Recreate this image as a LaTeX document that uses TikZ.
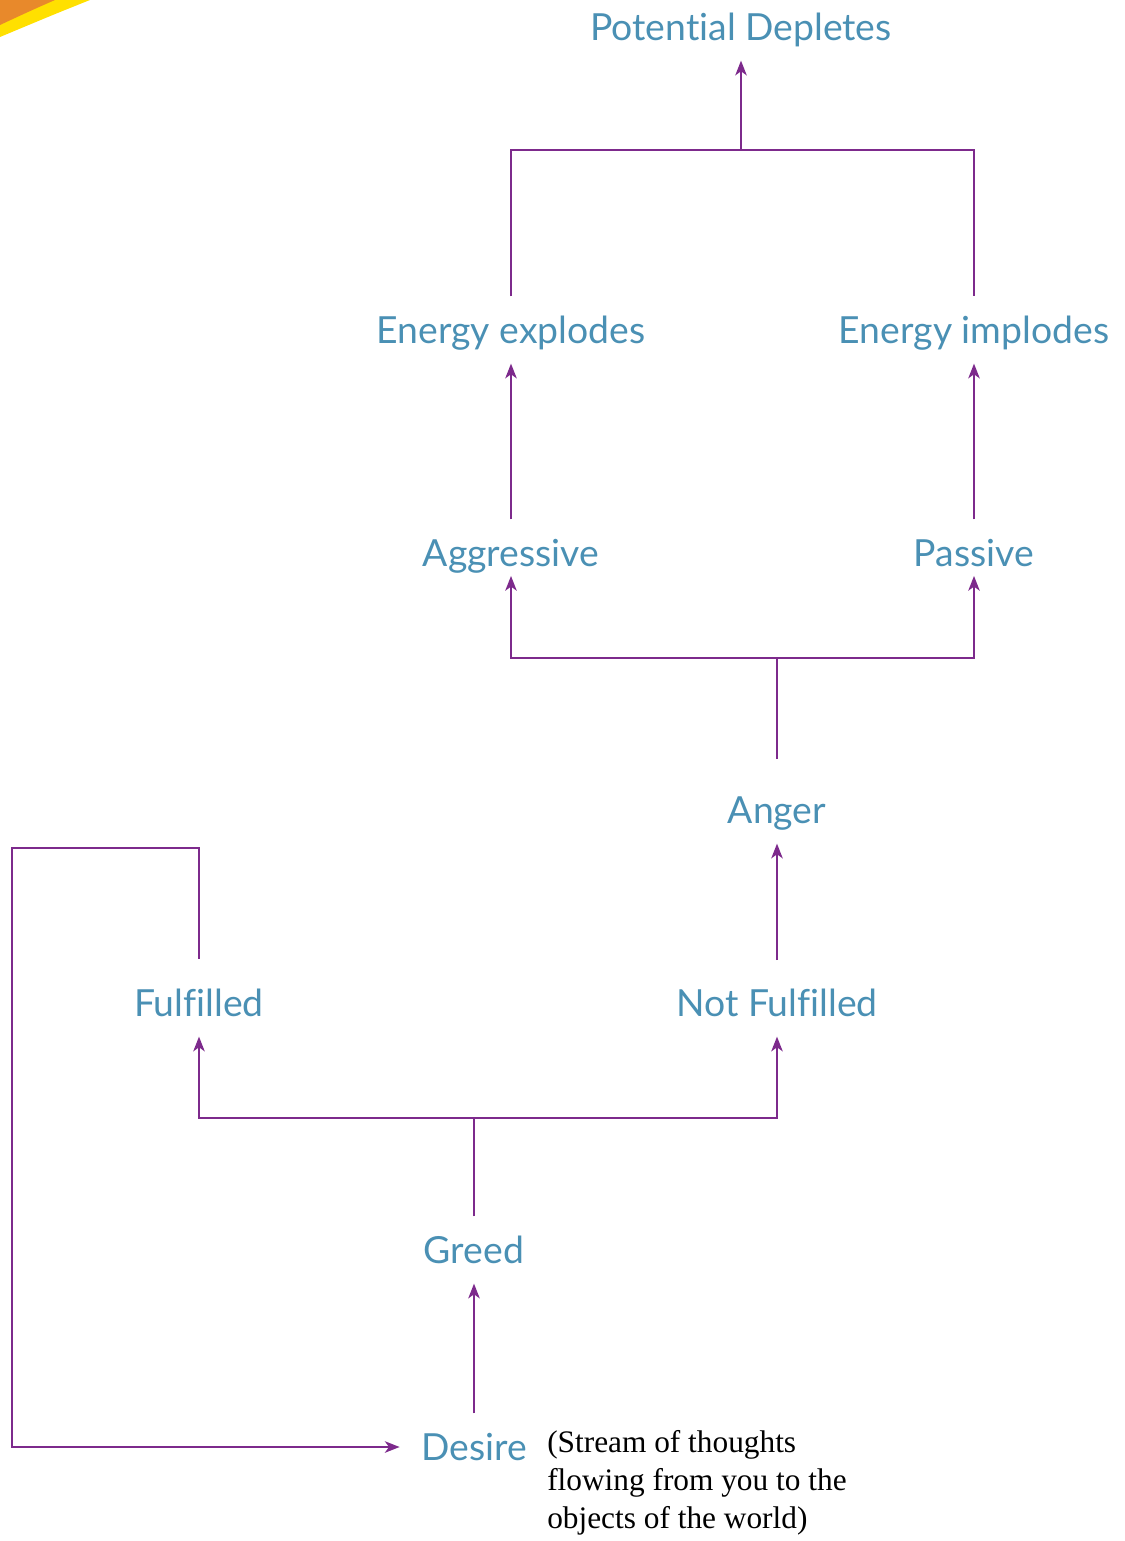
\documentclass[tikz,border=0pt]{standalone}
\usepackage{fontspec}
\usepackage{tikz}
\usetikzlibrary{arrows.meta}
\setmainfont{Lato}[Ligatures={NoCommon}]
\newfontfamily\notefont{Liberation Serif}
\definecolor{LabelBlue}{RGB}{74,144,180}
\definecolor{FlowPurple}{RGB}{125,42,140}
\definecolor{CornerOrange}{RGB}{232,137,43}
\definecolor{CornerYellow}{RGB}{255,224,0}

\begin{document}
\begin{tikzpicture}[x=0.75pt,y=-0.75pt,
    lbl/.style={text=LabelBlue,font=\fontsize{28}{32}\selectfont,
        text height=20pt,text depth=0pt,inner xsep=16pt,inner ysep=15pt},
    note/.style={font=\notefont\fontsize{23.5}{28.5}\selectfont,align=left,
        inner sep=0pt,anchor=north west},
    flow/.style={line width=1.85pt,FlowPurple},
    tip/.style={-{Stealth[length=11pt,width=8.5pt,inset=3pt]}}]
    \useasboundingbox (0,0) rectangle (1124,1541);

    \fill[CornerYellow] (0,0) -- (90,0) .. controls (55,14) .. (0,37) -- cycle;
    \fill[CornerOrange] (0,0) -- (55,0) .. controls (30,11) .. (0,25) -- cycle;

    \node[lbl] (deplete) at (741,27) {Potential Depletes};
    \node[lbl] (explode) at (511,330) {Energy explodes};
    \node[lbl] (implode) at (974,330) {Energy implodes};
    \node[lbl] (aggr) at (511,553) {Aggressive};
    \node[lbl] (passive) at (974,553) {Passive};
    \node[lbl] (anger) at (777,810) {Anger};
    \node[lbl] (fulfil) at (199,1003) {Fulfilled};
    \node[lbl] (notfulfil) at (777,1003) {Not Fulfilled};
    \node[lbl] (greed) at (474,1250) {Greed};
    \node[lbl] (desire) at (474,1447) {Desire};
    \node[note] (stream) at (547,1430)
        {(Stream of thoughts\\flowing from you to the\\objects of the world)};

    \coordinate (topjoin) at (741,150);
    \coordinate (angerjoin) at (777,658);
    \coordinate (greedjoin) at (474,1118);
    \coordinate (loopcorner) at (12,848);

    \draw[flow] (explode) |- (topjoin) -| (implode);
    \draw[flow,tip] (topjoin) -- (deplete);
    \draw[flow,tip] (aggr) -- (explode);
    \draw[flow,tip] (passive) -- (implode);
    \draw[flow,tip,shorten >=-8pt] (angerjoin) -| (aggr);
    \draw[flow,tip,shorten >=-8pt] (angerjoin) -| (passive);
    \draw[flow,shorten <=13pt] (anger) -- (angerjoin);
    \draw[flow,tip,shorten <=7pt] (notfulfil) -- (anger);
    \draw[flow,tip] (greedjoin) -| (fulfil);
    \draw[flow,tip] (greedjoin) -| (notfulfil);
    \draw[flow] (greed) -- (greedjoin);
    \draw[flow,tip] (desire) -- (greed);
    \draw[flow,tip,shorten <=8pt] (fulfil) |- (loopcorner) |- (desire);
\end{tikzpicture}
\end{document}
